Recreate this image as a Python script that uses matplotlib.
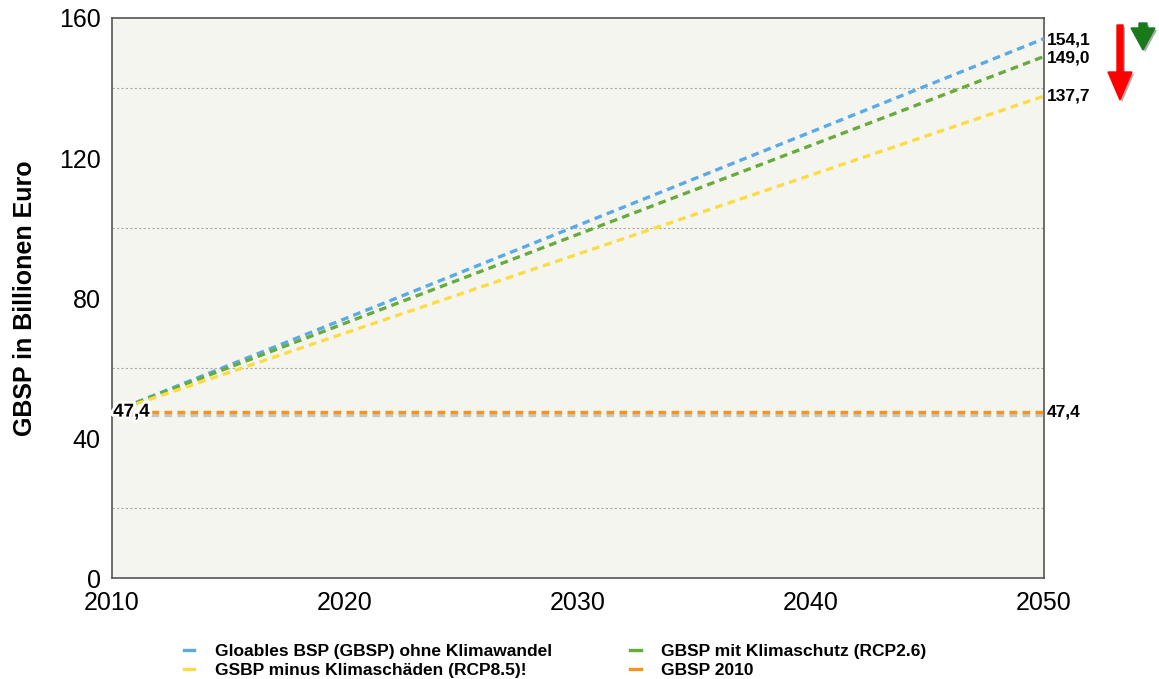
import matplotlib.pyplot as plt
import matplotlib.patheffects as pe
from matplotlib.patches import FancyArrow

years = [2010, 2050]
ohne_klimawandel = [47.4, 154.1]
klimaschutz = [47.4, 149.0]
klimaschaeden = [47.4, 137.7]
gbsp_2010 = [47.4, 47.4]

labels = ["Gloables BSP (GBSP) ohne Klimawandel",
          "GBSP mit Klimaschutz (RCP2.6)",
          "GSBP minus Klimaschäden (RCP8.5)!",
          "GBSP 2010"]
colors = ["#5aaae6", "#66ac3c", "#fbdc44", "#f7941d"]
end_labels = ["154,1", "149,0", "137,7", "47,4"]

plt.rcParams["font.family"] = ["Liberation Sans", "DejaVu Sans"]

fig = plt.figure(figsize=(11.59, 6.79), dpi=100)
ax = fig.add_axes([0.0966, 0.1487, 0.8042, 0.8248])
ax.set_facecolor("#f5f5ef")

shadow = [pe.SimpleLineShadow(offset=(0.3, -2.2), shadow_color="#bbbbbb", alpha=0.8), pe.Normal()]
series = [ohne_klimawandel, klimaschutz, klimaschaeden, gbsp_2010]
order = [3, 2, 1, 0]
handles = [None] * 4
for i in order:
    fx = shadow if i == 3 else None
    (ln,) = ax.plot(years, series[i], color=colors[i], lw=2.4, ls=(0, (2.3, 1.6)),
                    path_effects=fx, label=labels[i], zorder=3 + i, clip_on=False)
    handles[i] = ln

ax.set_xlim(2010, 2050)
ax.set_ylim(0, 160)
ax.set_xticks([2010, 2020, 2030, 2040, 2050])
ax.set_yticks([0, 40, 80, 120, 160])
ax.set_yticks([20, 40, 60, 80, 100, 120, 140], minor=True)
ax.grid(True, which="minor", axis="y", ls=(0, (2, 2)), color="#aaaaaa", lw=0.8)
ax.tick_params(axis="both", which="both", length=0, labelsize=18, pad=8)
ax.tick_params(axis="x", pad=9)
for s in ax.spines.values():
    s.set_color("#555555")
    s.set_linewidth(1.2)
ax.set_ylabel("GBSP in Billionen Euro", fontsize=18, fontweight="bold", labelpad=16)

# value labels
halo = [pe.withStroke(linewidth=4, foreground="white")]
ax.text(2010.05, gbsp_2010[0], "47,4", fontsize=13.5, fontweight="bold", va="center",
        ha="left", path_effects=halo, zorder=10)
ends = [ohne_klimawandel[1], klimaschutz[1], klimaschaeden[1], gbsp_2010[1]]
offs = [-0.5, -0.4, 0, 0]
for v, o, t in zip(ends, offs, end_labels):
    ax.annotate(t, xy=(1, v + o), xycoords=("axes fraction", "data"), xytext=(2, 0),
                textcoords="offset points", fontsize=12.5, fontweight="bold",
                va="center", ha="left", annotation_clip=False)

# arrows outside the plot
arr_shadow = [pe.SimplePatchShadow(offset=(1.5, -1.5), shadow_rgbFace="#777777", alpha=0.6), pe.Normal()]
fig.patches.append(FancyArrow(1120 / 1159, 1 - 25 / 679, 0, -75 / 679, width=6 / 1159,
                              head_width=24 / 1159, head_length=28 / 679,
                              length_includes_head=True, color="#ff0000",
                              transform=fig.transFigure, path_effects=arr_shadow))
fig.patches.append(FancyArrow(1143 / 1159, 1 - 23 / 679, 0, -27 / 679, width=8 / 1159,
                              head_width=24 / 1159, head_length=22 / 679,
                              length_includes_head=True, color="#1a7a1a",
                              transform=fig.transFigure, path_effects=arr_shadow))

leg = fig.legend([handles[0], handles[2], handles[1], handles[3]],
                 [labels[0], labels[2], labels[1], labels[3]],
                 loc="lower left", bbox_to_anchor=(0.145, -0.022), ncol=2, frameon=False,
                 prop={"size": 12.5, "weight": "bold"}, handlelength=0.6, handletextpad=1.2,
                 columnspacing=4.5, labelspacing=0.25)
for h in leg.get_lines():
    h.set_linestyle("-")
    h.set_path_effects([])

fig.savefig("out.png", dpi=100)
